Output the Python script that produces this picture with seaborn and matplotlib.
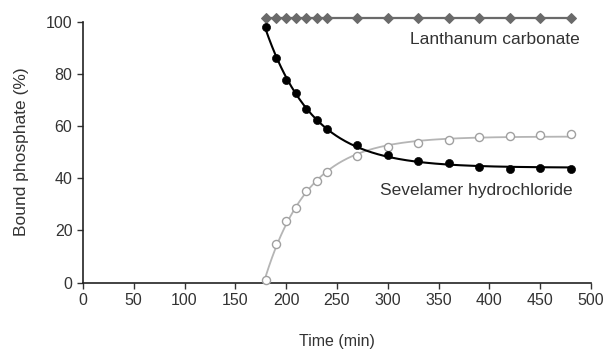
import numpy as np
import pandas as pd
import matplotlib
matplotlib.use("Agg")
import matplotlib.pyplot as plt
import seaborn as sns

time_min = [180, 190, 200, 210, 220, 230, 240, 270, 300, 330, 360, 390, 420, 450, 480]
lanthanum = [101.5] * 15
sevelamer_bound = [98, 86, 77.5, 72.5, 66.5, 62.3, 59, 52.7, 48.9, 46.8, 46, 44.5, 43.6, 43.8, 43.6]
sevelamer_released = [1.2, 14.8, 23.7, 28.7, 35.2, 39, 42.4, 48.5, 51.9, 53.5, 54.5, 55.7, 56.2, 56.7, 57]
x_ticks = [0, 50, 100, 150, 200, 250, 300, 350, 400, 450, 500]
y_ticks = [0, 20, 40, 60, 80, 100]

df = pd.DataFrame({"time": time_min, "lan": lanthanum,
                   "sev": sevelamer_bound, "rel": sevelamer_released})


def exp_fit(t, y):
    # least-squares fit y = A + B*exp(-k (t - t0)), grid search over k
    t = np.asarray(t, float); y = np.asarray(y, float)
    best = None
    for k in np.linspace(0.002, 0.1, 2000):
        e = np.exp(-k * (t - t[0]))
        M = np.column_stack([np.ones_like(e), e])
        coef, *_ = np.linalg.lstsq(M, y, rcond=None)
        r = np.sum((M @ coef - y) ** 2)
        if best is None or r < best[0]:
            best = (r, k, coef)
    _, k, (a, b) = best
    tt = np.linspace(t[0], t[-1], 300)
    return tt, a + b * np.exp(-k * (tt - t[0]))


sns.set_style("ticks")
plt.rcParams["font.family"] = ["Liberation Sans", "DejaVu Sans"]

fig = plt.figure(figsize=(6.05, 3.49), dpi=100)
ax = fig.add_axes([0.137, 0.19, 0.84, 0.748])

tt, fb = exp_fit(time_min, sevelamer_bound)
tr, fr = exp_fit(time_min, sevelamer_released)
sns.lineplot(x=tr, y=fr, ax=ax, color="#b5b5b5", lw=1.3)
sns.lineplot(x=tt, y=fb, ax=ax, color="black", lw=1.5)

sns.lineplot(data=df, x="time", y="lan", ax=ax, color="#6a6a6a", lw=1.6,
             marker="D", markersize=5, markeredgecolor="#6a6a6a", clip_on=False)
sns.scatterplot(data=df, x="time", y="rel", ax=ax, s=34, facecolor="white",
                edgecolor="#a0a0a0", linewidth=1.0, zorder=4, clip_on=False)
sns.scatterplot(data=df, x="time", y="sev", ax=ax, s=34, color="black",
                edgecolor="black", zorder=5, clip_on=False)

ax.set_xlim(0, 500)
ax.set_ylim(0, 100)
ax.set_xticks(x_ticks)
ax.set_yticks(y_ticks)
ax.tick_params(labelsize=11.5, length=4, width=1, colors="#333333", labelcolor="#333333")
for s in ["left", "bottom"]:
    ax.spines[s].set_linewidth(1.2)
    ax.spines[s].set_color("#222222")
sns.despine(ax=ax)

ax.set_xlabel("Time (min)", fontsize=11.5, color="#333333", labelpad=19)
ax.set_ylabel("Bound phosphate (%)", fontsize=12.5, color="#333333", labelpad=12)

ax.text(489, 93, "Lanthanum carbonate", ha="right", va="center", fontsize=12.5, color="#333333")
ax.text(482, 35.5, "Sevelamer hydrochloride", ha="right", va="center", fontsize=12.5, color="#333333")

fig.savefig("out.png", dpi=100)
